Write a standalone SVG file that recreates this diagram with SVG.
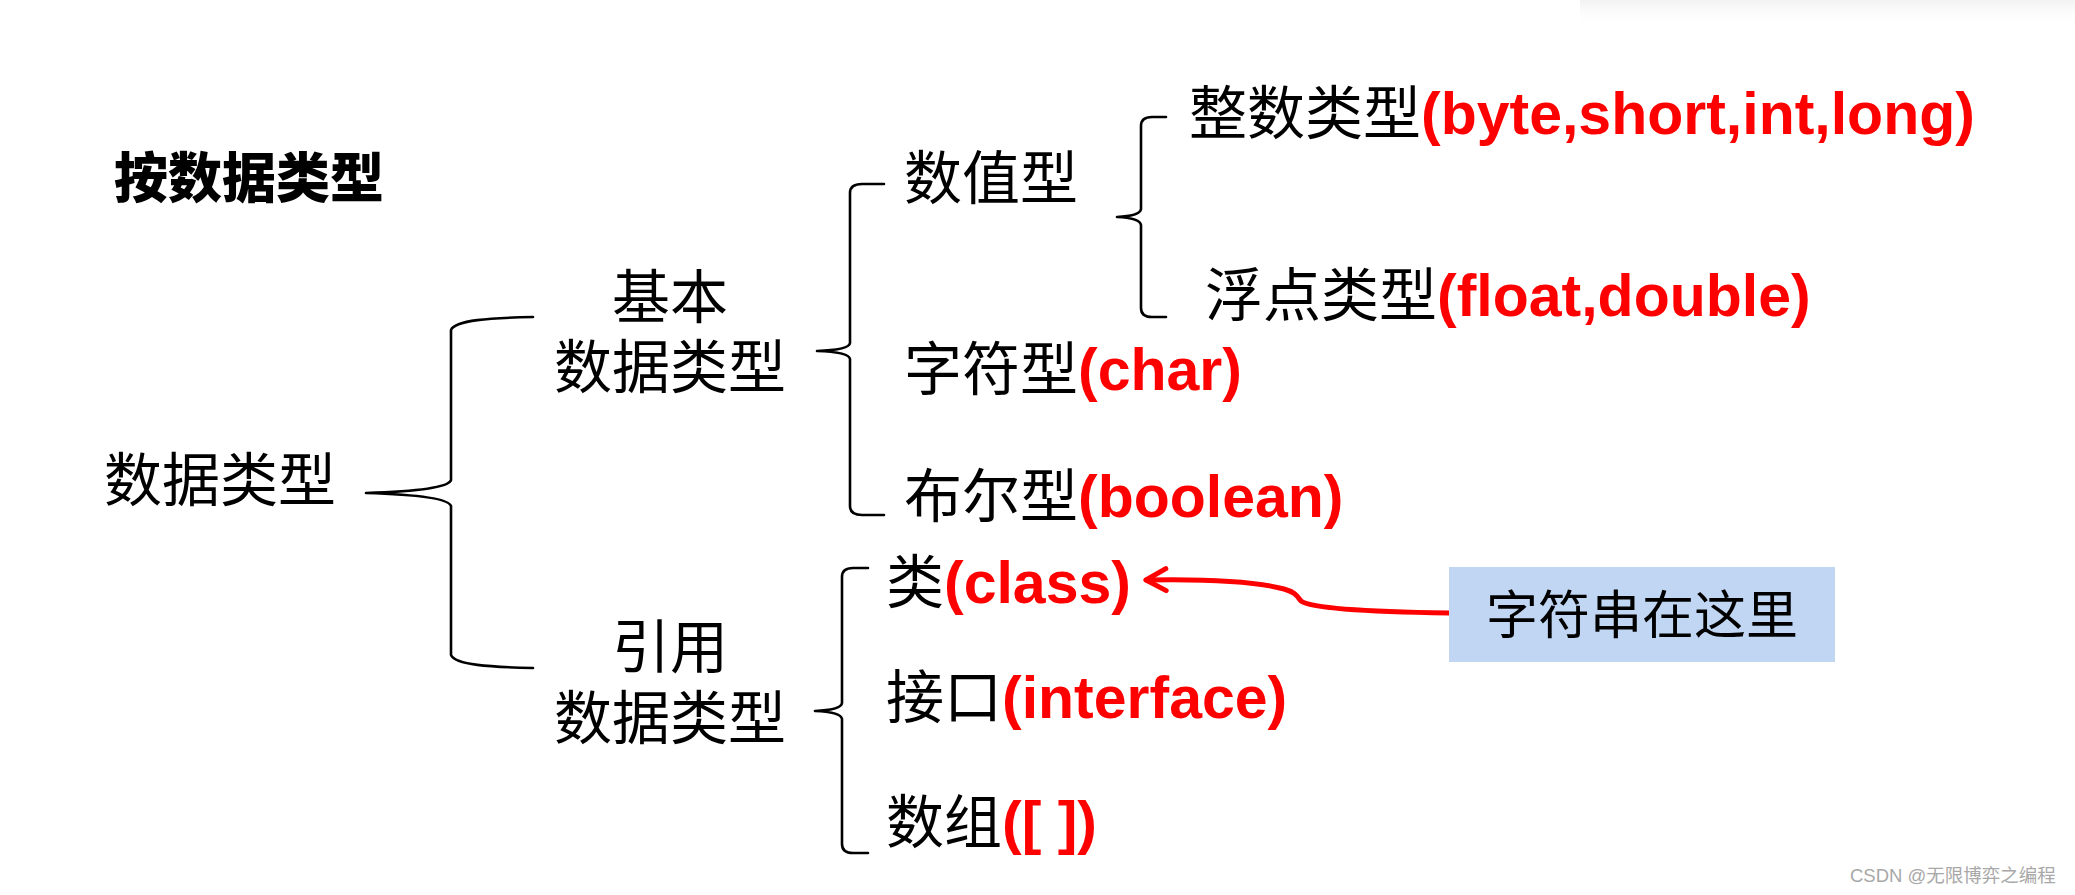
<svg xmlns="http://www.w3.org/2000/svg" width="2075" height="895" viewBox="0 0 2075 895">
<style>
.cjk{font-family:"Noto Sans CJK SC",sans-serif;font-size:58px;fill:#000}
.red{font-family:"Liberation Sans",Arial,sans-serif;font-weight:bold;font-size:59px;fill:#FF0000}
.br{fill:none;stroke:#000;stroke-width:2.6;stroke-linecap:round;stroke-linejoin:round}
</style>
<defs>
<linearGradient id="shadow" x1="0" y1="0" x2="0" y2="1">
<stop offset="0" stop-color="#f2f2f2"/>
<stop offset="1" stop-color="#ffffff" stop-opacity="0"/>
</linearGradient>
<marker id="chev" markerWidth="30" markerHeight="30" refX="0" refY="0" orient="auto" markerUnits="userSpaceOnUse" overflow="visible">
<path d="M-20,-11 L0,0 L-20,11" fill="none" stroke="#FF0000" stroke-width="5" stroke-linecap="round" stroke-linejoin="round"/>
</marker>
</defs>
<rect width="2075" height="895" fill="#fff"/>
<rect x="1580" y="0" width="495" height="26" fill="url(#shadow)"/>

<g id="title"><text x="114" y="198" style="font-family:'Noto Sans CJK SC',sans-serif;font-weight:900;font-size:54px">按数据类型</text></g>

<g id="connectors">
<path class="br" d="M533,317 C490,318 455,320 451,330 L451,480 C448,489 400,492 366,493 C400,494 448,497 451,506 L451,655 C455,665 490,667 533,668"/>
<path class="br" d="M884,184 L862,184 Q850,184 850,193 L850,343 Q849,350 817,351 Q849,352 850,359 L850,506 Q850,515 862,515 L884,515"/>
<path class="br" d="M868,568 L853,568 Q842,568 842,577 L842,703 Q841,710 815,711 Q841,712 842,719 L842,844 Q842,853 853,853 L868,853"/>
<path class="br" d="M1166,117 L1152,117 Q1141,117 1141,126 L1141,209 Q1140,216 1117,217 Q1140,218 1141,225 L1141,308 Q1141,317 1152,317 L1166,317"/>
<path d="M1449,613 C1380,612 1312,609 1301,601 C1297,596 1295,592 1284,589 C1250,580 1200,579 1146,580" fill="none" stroke="#FF0000" stroke-width="5" stroke-linecap="round" marker-end="url(#chev)"/>
</g>

<g id="n-root"><text class="cjk" x="104" y="501">数据类型</text></g>
<g id="n-basic"><text class="cjk" text-anchor="middle"><tspan x="670" y="318">基本</tspan><tspan x="670" y="388">数据类型</tspan></text></g>
<g id="n-ref"><text class="cjk" text-anchor="middle"><tspan x="670" y="668">引用</tspan><tspan x="670" y="739">数据类型</tspan></text></g>
<g id="n-numeric"><text class="cjk" x="904" y="199">数值型</text></g>
<g id="n-int"><text class="cjk" x="1189" y="134">整数类型<tspan class="red">(byte,short,int,long)</tspan></text></g>
<g id="n-float"><text class="cjk" x="1205" y="316">浮点类型<tspan class="red">(float,double)</tspan></text></g>
<g id="n-char"><text class="cjk" x="904" y="390">字符型<tspan class="red">(char)</tspan></text></g>
<g id="n-bool"><text class="cjk" x="904" y="517">布尔型<tspan class="red">(boolean)</tspan></text></g>
<g id="n-class"><text class="cjk" x="886" y="603">类<tspan class="red">(class)</tspan></text></g>
<g id="n-interface"><text class="cjk" x="886" y="718">接口<tspan class="red">(interface)</tspan></text></g>
<g id="n-array"><text class="cjk" x="886" y="843">数组<tspan class="red">([ ])</tspan></text></g>
<g id="n-note"><rect x="1449" y="567" width="386" height="95" fill="#C0D6F3"/><text class="cjk" x="1642" y="634" text-anchor="middle" style="font-size:52px">字符串在这里</text></g>
<g id="watermark"><text x="1850" y="882" style="font-family:'Liberation Sans','Noto Sans CJK SC',sans-serif;font-size:18.5px;fill:#a8a8a8">CSDN @无限博弈之编程</text></g>
</svg>
